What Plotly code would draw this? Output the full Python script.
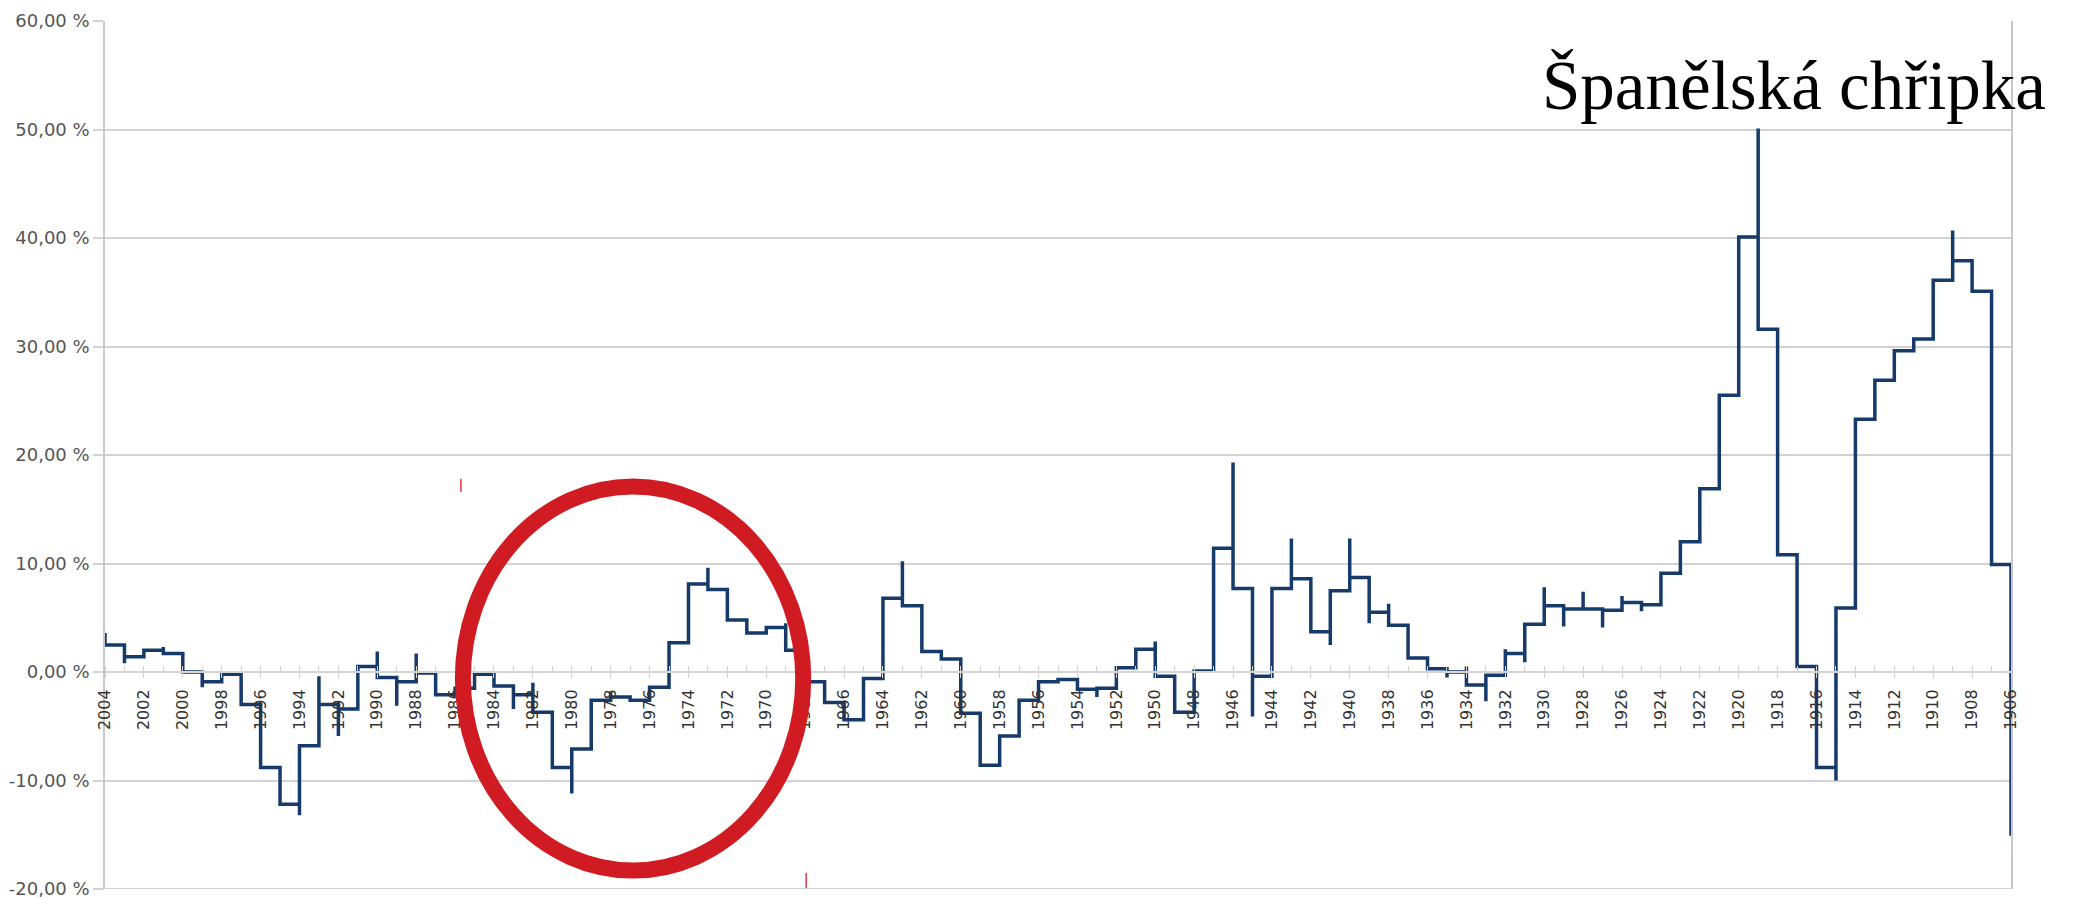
import plotly.graph_objects as go

# ---- data ----
years = list(range(2004, 1905, -1))  # 2004 ... 1906

values = [
    2.5, 1.4, 2.0, 1.7, 0.0, -0.9, -0.2, -3.0, -8.8, -12.2,      # 2004-1995
    -6.8, -3.0, -3.4, 0.5, -0.5, -0.9, -0.1, -2.1, -1.5, -0.2,   # 1994-1985
    -1.3, -2.1, -3.7, -8.8, -7.1, -2.6, -2.3, -2.6, -1.4, 2.7,   # 1984-1975
    8.1, 7.6, 4.8, 3.6, 4.1, 2.0, -0.9, -2.8, -4.4, -0.6,        # 1974-1965
    6.8, 6.1, 1.9, 1.2, -3.8, -8.6, -5.9, -2.6, -0.9, -0.7,      # 1964-1955
    -1.6, -1.5, 0.4, 2.1, -0.4, -3.7, 0.1, 11.4, 7.7, -0.4,      # 1954-1945
    7.7, 8.6, 3.7, 7.5, 8.7, 5.5, 4.3, 1.3, 0.3, 0.0,            # 1944-1935
    -1.2, -0.3, 1.7, 4.4, 6.1, 5.8, 5.8, 5.7, 6.4, 6.2,          # 1934-1925
    9.1, 12.0, 16.9, 25.5, 40.1, 31.6, 10.8, 0.5, -8.8, 5.9,     # 1924-1915
    23.3, 26.9, 29.6, 30.7, 36.1, 37.9, 35.1, 9.9, -15.1,        # 1914-1906
]

# short extreme excursions drawn at the year boundary (None = none)
spikes = [
    3.6, 0.8, None, 2.3, None, -1.4, None, None, None, None,
    -13.2, -0.4, -5.9, None, 1.9, -3.1, 1.7, None, None, None,
    None, -3.4, -1.0, None, -11.2, None, -1.8, None, None, None,
    None, 9.6, None, None, None, 4.5, None, None, None, None,
    None, 10.2, None, None, None, None, None, None, None, None,
    None, -2.3, None, None, 2.8, None, None, None, 19.3, -4.1,
    None, 12.3, None, 2.5, 12.3, 4.5, 6.3, None, None, -0.5,
    0.5, -2.7, 2.1, 0.9, 7.8, 4.2, 7.4, 4.1, 7.0, 5.6,
    None, None, None, None, None, 50.1, None, None, None, -10.0,
    None, None, None, None, None, 40.7, None, None, None,
]

y_tick_values = [-20, -10, 0, 10, 20, 30, 40, 50, 60]
y_tick_labels = ["-20,00 %", "-10,00 %", "0,00 %", "10,00 %", "20,00 %",
                 "30,00 %", "40,00 %", "50,00 %", "60,00 %"]

annotation_text = "Španělská chřipka"

# ---- build step path ----
xs, ys = [], []
for yr, v, s in zip(years, values, spikes):
    if s is not None:
        xs.append(yr)
        ys.append(s)
    xs.append(yr)
    ys.append(v)

# page has an 8px body margin; size the figure to fit the 2075x899 window
W, H = 2067, 891
ML, MR, MT, MB = 97, 64, 13, 10
GRID = "#d2d2d2"

fig = go.Figure()
fig.add_trace(go.Scatter(
    x=xs, y=ys, mode="lines",
    line=dict(shape="hv", color="#163a6a", width=3.5),
    showlegend=False, hoverinfo="skip",
))

ymin, ymax = y_tick_values[0], y_tick_values[-1]
zero_pos = (0 - ymin) / (ymax - ymin)

fig.update_layout(
    width=W, height=H, autosize=False,
    margin=dict(l=ML, r=MR, t=MT, b=MB, pad=0),
    paper_bgcolor="white", plot_bgcolor="white",
    xaxis=dict(
        range=[years[0], years[-1]],
        tickmode="linear", tick0=years[0], dtick=2,
        tickangle=-90,
        tickfont=dict(family="DejaVu Sans", size=16, color="#333333"),
        showgrid=False, zeroline=False,
        showline=True, linecolor="#d4d4d4", linewidth=2,
        ticks="outside", ticklen=5, tickcolor="#d8d0c4", tickwidth=1,
        minor=dict(dtick=1, ticks="inside", ticklen=5, tickcolor="#d8d0c4"),
        ticklabelstandoff=5,
        anchor="free", position=zero_pos,
        automargin=False,
    ),
    yaxis=dict(
        range=[ymin, ymax],
        tickmode="array", tickvals=y_tick_values, ticktext=y_tick_labels,
        tickfont=dict(family="DejaVu Sans", size=18, color="#555555"),
        ticklabeloverflow="allow",
        showgrid=True, gridcolor=GRID, gridwidth=2,
        zeroline=False,
        showline=True, linecolor="#c8c8c8", linewidth=1.5, mirror=True,
        ticks="outside", ticklen=10, tickcolor=GRID, tickwidth=2,
        automargin=False,
    ),
)

# bottom gridline of the wall (plotly drops the edge gridline)
fig.add_shape(type="line", xref="paper", yref="y",
              x0=0, x1=1, y0=ymin, y1=ymin,
              line=dict(color=GRID, width=2), layer="below")

# red ellipse highlighting the 1970s region
fig.add_shape(type="circle", xref="x", yref="y",
              x0=1985.6, x1=1968.1, y0=-18.3, y1=17.1,
              line=dict(color="#cf1b21", width=16), layer="above")
# small red marks
fig.add_shape(type="line", xref="x", yref="y",
              x0=1985.7, x1=1985.7, y0=16.6, y1=17.8,
              line=dict(color="#e0303a", width=1.5), layer="above")
fig.add_shape(type="line", xref="x", yref="y",
              x0=1967.95, x1=1967.95, y0=-19.9, y1=-18.5,
              line=dict(color="#e0303a", width=1.5), layer="above")

pw = W - ML - MR
ph = H - MT - MB
fig.add_annotation(
    text=annotation_text, xref="paper", yref="paper",
    x=(2048 - 105) / pw, y=(889 - 85.5) / ph,
    xanchor="right", yanchor="middle", showarrow=False,
    font=dict(family="Liberation Serif", size=69, color="black"),
)

fig.write_html("out.html")
